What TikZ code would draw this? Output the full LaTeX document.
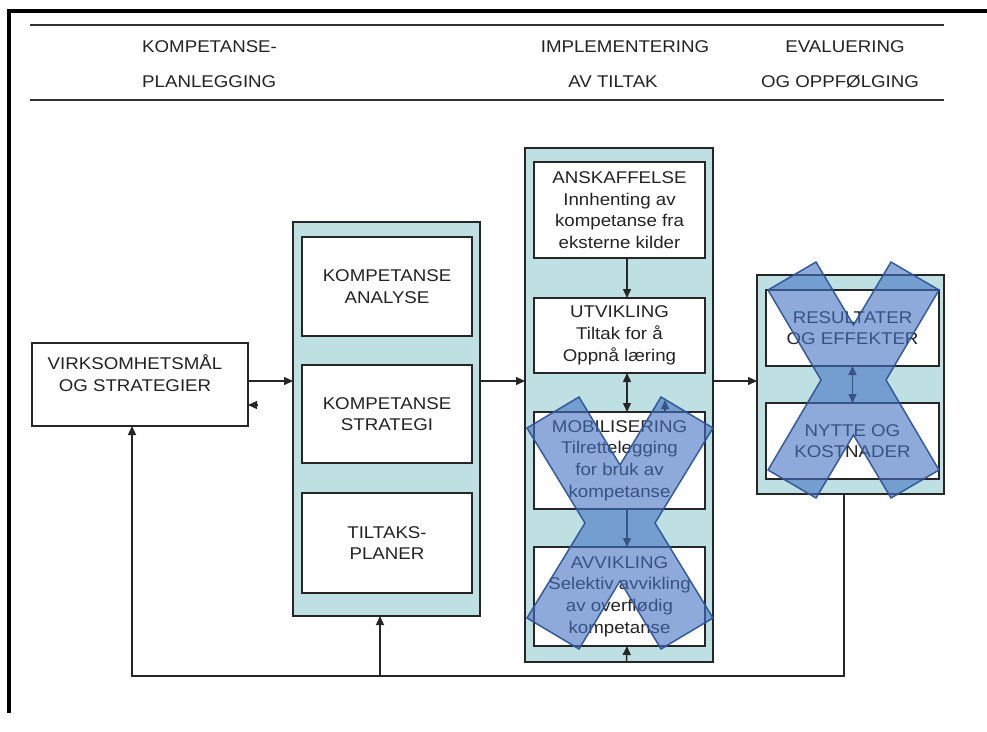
\documentclass[tikz,border=0pt]{standalone}
\usepackage{fontspec}
\setmainfont{Liberation Sans}[FakeStretch=1.1]
\usetikzlibrary{arrows.meta}
\definecolor{colteal}{RGB}{190,224,227}
\definecolor{xfill}{RGB}{68,114,196}
\definecolor{xline}{RGB}{47,85,151}
\definecolor{txt}{RGB}{35,35,35}
\tikzset{
  colbox/.style={draw=black!85, line width=1.6pt, fill=colteal, inner sep=0pt, outer sep=0pt},
  inbox/.style={draw=black!85, line width=1.8pt, fill=white, inner sep=0pt, outer sep=0pt,
     align=center, text=txt, font=\fontsize{17}{21.7}\selectfont},
  hdr/.style={text=txt, inner sep=0pt, font=\fontsize{17}{21.7}\selectfont},
  lbl/.style={text=txt, inner sep=0pt, align=center, font=\fontsize{17}{21.7}\selectfont},
  arr/.style={line width=1.4pt, draw=black!85, -{Triangle[length=9pt,width=8pt]}},
  arrtwo/.style={line width=1.4pt, draw=black!85, {Triangle[length=9pt,width=8pt]}-{Triangle[length=9pt,width=8pt]}},
  xmark/.style={fill=xfill, fill opacity=0.6, draw=xline, draw opacity=0.95, line width=1.5pt, line join=miter}
}
\begin{document}
\begin{tikzpicture}[x=1pt,y=-1pt]
\useasboundingbox (0,0) rectangle (987,731);
\fill[white] (0,0) rectangle (987,731);
% frame
\draw[line width=4pt] (987,10.5) -- (9,10.5) -- (9,713);
% header
\draw[line width=1.8pt, black!80] (30,25) -- (944,25);
\draw[line width=1.8pt, black!80] (30,100) -- (944,100);
\node[hdr, anchor=west] (h1a) at (142,47) {KOMPETANSE-};
\node[hdr, anchor=west] (h1b) at (142,82) {PLANLEGGING};
\node[hdr] (h2a) at (625,47) {IMPLEMENTERING};
\node[hdr] (h2b) at (613,82) {AV TILTAK};
\node[hdr] (h3a) at (845,47) {EVALUERING};
\node[hdr] (h3b) at (840,82) {OG OPPFØLGING};

% left box
\node[inbox, minimum width=216pt, minimum height=83pt] (virk) at (140,384.5) {};
\node[lbl] (virkt) at (135,373.5) {VIRKSOMHETSMÅL\\OG STRATEGIER};

% column 1
\node[colbox, minimum width=187pt, minimum height=394pt] (col1) at (386.5,419) {};
\node[inbox, minimum width=170pt, minimum height=99pt] (ana) at (387,286.5) {KOMPETANSE\\ANALYSE};
\node[inbox, minimum width=170pt, minimum height=98pt] (str) at (387,414) {KOMPETANSE\\STRATEGI};
\node[inbox, minimum width=170pt, minimum height=100pt] (tilt) at (387,543) {TILTAKS-\\PLANER};

% column 2
\node[colbox, minimum width=188pt, minimum height=514pt] (col2) at (619,405) {};
\node[inbox, minimum width=171pt, minimum height=96pt] (ansk) at (619.5,210) {ANSKAFFELSE\\Innhenting av\\kompetanse fra\\eksterne kilder};
\node[inbox, minimum width=171pt, minimum height=75pt] (utv) at (619.5,335.5) {UTVIKLING\\Tiltak for å\\Oppnå læring};
\node[inbox, minimum width=171pt, minimum height=97pt] (mob) at (619.5,460.5) {MOBILISERING\\Tilrettelegging\\for bruk av\\kompetanse};
\node[inbox, minimum width=171pt, minimum height=99pt] (avv) at (619.5,596.5) {AVVIKLING\\Selektiv avvikling\\av overflødig\\kompetanse};

% column 3
\node[colbox, minimum width=187pt, minimum height=219pt] (col3) at (850.5,384.5) {};
\node[inbox, minimum width=173pt, minimum height=76pt] (res) at (852.5,328) {RESULTATER\\OG EFFEKTER};
\node[inbox, minimum width=173pt, minimum height=76pt] (nyt) at (852.5,441) {NYTTE OG\\KOSTNADER};

% connectors
\draw[arr] ([yshift=3.5pt]virk.east) coordinate (a) -- (a -| col1.west);
\draw[arr] (col1.east |- a) -- (col2.west |- a);
\draw[arr] (col2.east |- a) -- (col3.west |- a);
\draw[arr] ([xshift=9pt,yshift=-20.5pt]virk.east) -- ([yshift=-20.5pt]virk.east);
\coordinate (bot) at (0,676);
\draw[arr] ([xshift=-6.5pt]col3.south) |- (bot -| col1.south) -| ([xshift=-8pt]virk.south);
\draw[arr] ([xshift=-6.5pt]col1.south |- bot) -- ([xshift=-6.5pt]col1.south);
\draw[arr] ([xshift=7.5pt]ansk.south) -- ([xshift=7.5pt]utv.north);
\draw[arrtwo] ([xshift=7.5pt]utv.south) -- ([xshift=7.5pt]mob.north);
\draw[arr] ([xshift=7.5pt]mob.south) -- ([xshift=7.5pt]avv.north);
\draw[arr] ([xshift=7.5pt]col2.south) -- ([xshift=7.5pt]avv.south);
\draw[arr] ([xshift=45.5pt]mob.north) -- ++(0,-12);
\draw[arrtwo] (res.south) -- (nyt.north);

% crosses
\draw[xmark] (527,428) -- (579,397) -- (620,465) -- (661,397) -- (713,428) -- (655,523) -- (713,618) -- (661,649) -- (620,581) -- (579,649) -- (527,618) -- (585,523) -- cycle;
\draw[xmark] (768,290) -- (816,262) -- (853.5,325) -- (891,262) -- (939,290) -- (886,380) -- (939,470) -- (891,498) -- (853.5,435) -- (816,498) -- (768,470) -- (821,380) -- cycle;
\end{tikzpicture}
\end{document}
